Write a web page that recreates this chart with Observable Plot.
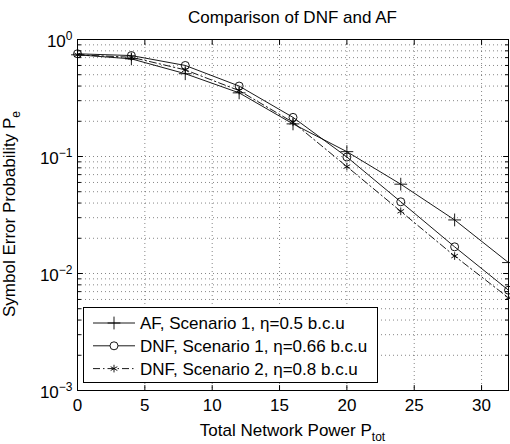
<!DOCTYPE html>
<html>
<head>
<meta charset="utf-8">
<script src="https://cdn.jsdelivr.net/npm/d3@7"></script>
<script src="https://cdn.jsdelivr.net/npm/@observablehq/plot@0.6"></script>
<style>
  html, body { margin: 0; padding: 0; background: #fff; }
</style>
</head>
<body>
<div id="chart"></div>
<script>
// ---- data ----
const powerTot = [0, 4, 8, 12, 16, 20, 24, 28, 32];
const afScenario1 = [0.74, 0.683, 0.51, 0.35, 0.19, 0.110, 0.058, 0.0287, 0.0124];
const dnfScenario1 = [0.755, 0.729, 0.60, 0.40, 0.216, 0.099, 0.041, 0.0169, 0.0072];
const dnfScenario2 = [0.74, 0.705, 0.55, 0.366, 0.196, 0.082, 0.034, 0.0141, 0.0062];

const seriesNames = [
  "AF, Scenario 1, η=0.5 b.c.u",
  "DNF, Scenario 1, η=0.66 b.c.u",
  "DNF, Scenario 2, η=0.8 b.c.u"
];
const xTicks = [0, 5, 10, 15, 20, 25, 30];
const yMajor = [1e-3, 1e-2, 1e-1, 1];
const yMinor = [2, 3, 4, 5, 6, 7, 8, 9].flatMap(m => [1e-3, 1e-2, 1e-1].map(e => +(m * e).toPrecision(3)));
const titleText = "Comparison of DNF and AF";
const xLabelMain = "Total Network Power P", xLabelSub = "tot";
const yLabelMain = "Symbol Error Probability P", yLabelSub = "e";

// ---- build tables ----
const mk = (vals) => powerTot.map((x, i) => ({x, y: vals[i]}));
const afData = mk(afScenario1), dnf1Data = mk(dnfScenario1), dnf2Data = mk(dnfScenario2);

const FONT = "'Liberation Sans', Arial, Helvetica, sans-serif";
const FS = 17;
const gridStyle = {stroke: "#000", strokeOpacity: 0.6, strokeWidth: 0.8, strokeDasharray: "1,3"};
const lineW = 0.9;
const DASH = "7,3,1.5,3";

// a plain straight tick as a vector shape
const tickShape = {draw(context, l) { context.moveTo(0, 0); context.lineTo(0, -l); }};
const tickOpts = (extra) => Object.assign({shape: tickShape, anchor: "start", stroke: "#000", strokeWidth: 1}, extra);

const chart = Plot.plot({
  width: 510, height: 444,
  marginLeft: 77, marginRight: 2, marginTop: 39, marginBottom: 54,
  style: {fontFamily: FONT, fontSize: FS + "px", background: "#fff", color: "#000"},
  x: {domain: [0, 32]},
  y: {type: "log", domain: [1e-3, 1]},
  marks: [
    Plot.ruleX(xTicks.filter(d => d > 0), gridStyle),
    Plot.ruleY(yMajor.concat(yMinor).filter(d => d > 1e-3 && d < 1), gridStyle),
    Plot.frame({stroke: "#000", strokeWidth: 1}),
    // inward ticks
    Plot.vector(xTicks, tickOpts({x: d => d, frameAnchor: "bottom", rotate: 0, length: 5})),
    Plot.vector(xTicks, tickOpts({x: d => d, frameAnchor: "top", rotate: 180, length: 5})),
    Plot.vector(yMajor, tickOpts({y: d => d, frameAnchor: "left", rotate: 90, length: 5})),
    Plot.vector(yMajor, tickOpts({y: d => d, frameAnchor: "right", rotate: 270, length: 5})),
    Plot.vector(yMinor, tickOpts({y: d => d, frameAnchor: "left", rotate: 90, length: 3})),
    Plot.vector(yMinor, tickOpts({y: d => d, frameAnchor: "right", rotate: 270, length: 3})),
    // tick labels
    Plot.axisX(xTicks, {anchor: "bottom", tickSize: 0, tickPadding: 8, label: null, fontSize: FS, tickFormat: d => String(d)}),
    Plot.axisY(yMajor, {anchor: "left", tickSize: 0, tickPadding: 5, label: null, fontSize: FS, dy: 2,
      tickFormat: d => String(Math.round(Math.log10(d)))}),
    // series
    Plot.line(afData, {x: "x", y: "y", stroke: "#000", strokeWidth: lineW}),
    Plot.line(dnf1Data, {x: "x", y: "y", stroke: "#000", strokeWidth: lineW}),
    Plot.line(dnf2Data, {x: "x", y: "y", stroke: "#000", strokeWidth: lineW, strokeDasharray: DASH}),
    Plot.dot(afData, {x: "x", y: "y", symbol: "plus", r: 4.2, stroke: "#000", strokeWidth: lineW}),
    Plot.dot(dnf1Data, {x: "x", y: "y", symbol: "circle", r: 4, stroke: "#000", fill: "none", strokeWidth: lineW}),
    Plot.dot(dnf2Data, {x: "x", y: "y", symbol: "asterisk", r: 3.6, stroke: "#000", strokeWidth: lineW})
  ]
});
document.getElementById("chart").appendChild(chart);

const svg = d3.select(chart);

// superscript exponents on y tick labels
svg.selectAll("g[aria-label='y-axis tick label'] text").each(function() {
  const t = d3.select(this);
  const e = t.text().replace("-", "−");
  t.text("");
  t.append("tspan").text("10");
  t.append("tspan").attr("dy", "-0.55em").attr("font-size", "12px").text(e);
});

// title and axis labels
svg.append("text").attr("x", 292.5).attr("y", 23).attr("text-anchor", "middle")
  .attr("font-family", FONT).attr("font-size", FS).attr("fill", "#000").text(titleText);

const xl = svg.append("text").attr("x", 292.5).attr("y", 436).attr("text-anchor", "middle")
  .attr("font-family", FONT).attr("font-size", FS).attr("fill", "#000");
xl.append("tspan").text(xLabelMain);
xl.append("tspan").attr("font-size", 12).attr("dy", 5).text(xLabelSub);

const yl = svg.append("text").attr("transform", "translate(15,214) rotate(-90)").attr("text-anchor", "middle")
  .attr("font-family", FONT).attr("font-size", FS).attr("fill", "#000");
yl.append("tspan").text(yLabelMain);
yl.append("tspan").attr("font-size", 12).attr("dy", 5).text(yLabelSub);

// legend
const lg = svg.append("g").attr("font-family", FONT).attr("font-size", FS).attr("text-anchor", "start");
lg.append("rect").attr("x", 83.5).attr("y", 307.5).attr("width", 294).attr("height", 75)
  .attr("fill", "#fff").attr("stroke", "#000").attr("stroke-width", 1);
const syms = [d3.symbolPlus, d3.symbolCircle, d3.symbolAsterisk];
const symSize = [Math.PI * 4.2 * 4.2, Math.PI * 16, Math.PI * 3.6 * 3.6];
const dashes = [null, null, DASH];
seriesNames.forEach((name, i) => {
  const cy = 323 + i * 22.8;
  lg.append("line").attr("x1", 93).attr("x2", 135).attr("y1", cy).attr("y2", cy)
    .attr("stroke", "#000").attr("stroke-width", lineW).attr("stroke-dasharray", dashes[i]);
  lg.append("path").attr("transform", `translate(114,${cy})`)
    .attr("d", d3.symbol(syms[i], symSize[i])()).attr("fill", i === 1 ? "#fff" : "none")
    .attr("stroke", "#000").attr("stroke-width", lineW);
  lg.append("text").attr("x", 140).attr("y", cy + 6).attr("text-anchor", "start").attr("fill", "#000").text(name);
});
</script>
</body>
</html>
